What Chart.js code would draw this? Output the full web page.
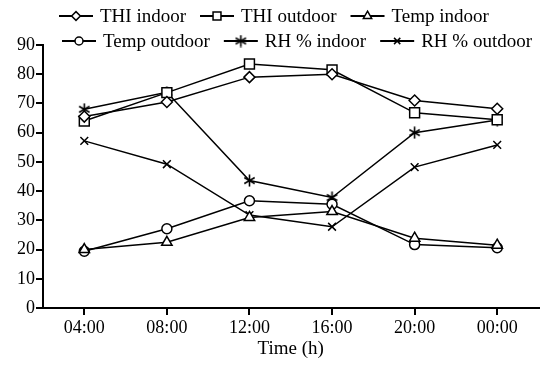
<!DOCTYPE html>
<html>
<head>
<meta charset="utf-8">
<script src="https://cdn.jsdelivr.net/npm/chart.js@4"></script>
<style>
  body { margin: 0; background: #fff; }
  #wrap { width: 547px; height: 368px; }
</style>
</head>
<body>
<div id="wrap"><canvas id="thiChart"></canvas></div>
<script>
var timeLabels = ['04:00', '08:00', '12:00', '16:00', '20:00', '00:00'];

var thiIndoor   = [65.5, 70.5, 79.0, 80.0, 71.0, 68.2];
var thiOutdoor  = [64.0, 73.7, 83.5, 81.5, 66.8, 64.4];
var tempIndoor  = [20.0, 22.5, 31.0, 33.0, 23.9, 21.5];
var tempOutdoor = [19.4, 27.1, 36.7, 35.5, 21.7, 20.6];
var rhIndoor    = [68.0, 73.8, 43.6, 37.8, 60.0, 64.3];
var rhOutdoor   = [57.2, 49.2, 31.8, 27.8, 48.2, 55.8];

var FONT = "'Liberation Serif', 'Times New Roman', serif";

// six-pointed asterisk, chart.js 'star' has eight points
function asteriskImage() {
    var c = document.createElement('canvas');
    c.width = 13;
    c.height = 13;
    var g = c.getContext('2d');
    g.strokeStyle = '#000';
    g.lineWidth = 1.6;
    g.beginPath();
    g.moveTo(6.5, 0.5); g.lineTo(6.5, 12.5);
    g.moveTo(1.3, 3.5); g.lineTo(11.7, 9.5);
    g.moveTo(1.3, 9.5); g.lineTo(11.7, 3.5);
    g.stroke();
    return c;
}

function series(label, data, style, radius) {
    return {
        label: label,
        data: data,
        borderColor: '#000',
        borderWidth: 1.5,
        pointStyle: style,
        pointRadius: radius,
        pointBorderWidth: 1.5,
        pointBackgroundColor: '#fff',
        pointBorderColor: '#000',
        fill: false,
        tension: 0
    };
}

// legend drawn by hand so the two rows break like the original
var legendRows = {
    id: 'legendRows',
    afterDraw: function (chart) {
        var ctx = chart.ctx;
        var sets = chart.data.datasets;
        var rows = [{ y: 16, x: 59, items: [0, 1, 2] }, { y: 41, x: 62, items: [3, 4, 5] }];
        ctx.save();
        ctx.font = '19px ' + FONT;
        ctx.textBaseline = 'middle';
        rows.forEach(function (row) {
            var x = row.x;
            row.items.forEach(function (i) {
                var ds = sets[i];
                ctx.strokeStyle = '#000';
                ctx.lineWidth = 2;
                ctx.beginPath();
                ctx.moveTo(x, row.y);
                ctx.lineTo(x + 34, row.y);
                ctx.stroke();
                ctx.fillStyle = '#fff';
                ctx.lineWidth = 1.5;
                Chart.helpers.drawPoint(ctx, {
                    pointStyle: ds.pointStyle,
                    radius: ds.pointRadius * 0.8,
                    rotation: 0,
                    borderWidth: 1.5
                }, x + 17, row.y);
                ctx.fillStyle = '#000';
                ctx.fillText(ds.label, x + 41, row.y + 1);
                x += 41 + ctx.measureText(ds.label).width + 14;
            });
        });
        ctx.restore();
    }
};

var ctx = document.getElementById('thiChart');

var chart = new Chart(ctx, {
    type: 'line',
    data: {
        labels: timeLabels,
        datasets: [
            series('THI indoor', thiIndoor, 'rectRot', 5.5),
            series('THI outdoor', thiOutdoor, 'rect', 7),
            series('Temp indoor', tempIndoor, 'triangle', 6),
            series('Temp outdoor', tempOutdoor, 'circle', 5),
            series('RH % indoor', rhIndoor, asteriskImage(), 5.5),
            series('RH % outdoor', rhOutdoor, 'crossRot', 5.5)
        ]
    },
    options: {
        responsive: true,
        maintainAspectRatio: false,
        animation: false,
        layout: { padding: { top: 45, right: 2, left: 0, bottom: 0 } },
        plugins: {
            legend: { display: false },
            tooltip: { enabled: false }
        },
        scales: {
            x: {
                offset: true,
                grid: { display: true, drawOnChartArea: false, tickLength: 7, color: '#000', lineWidth: 2 },
                border: { color: '#000', width: 2 },
                ticks: { color: '#000', font: { family: FONT, size: 18 }, padding: 2, maxRotation: 0 },
                title: { display: true, text: 'Time (h)', color: '#000', font: { family: FONT, size: 19 }, padding: { top: 2, bottom: 8 } },
                afterFit: function (scale) { scale.height = 60; }
            },
            y: {
                min: 0,
                max: 90,
                ticks: { stepSize: 10, color: '#000', font: { family: FONT, size: 18 }, padding: 1 },
                grid: { display: true, drawOnChartArea: false, tickLength: 7, color: '#000', lineWidth: 2 },
                border: { color: '#000', width: 2 },
                afterFit: function (scale) { scale.width = 43; }
            }
        }
    },
    plugins: [legendRows]
});
</script>
</body>
</html>
